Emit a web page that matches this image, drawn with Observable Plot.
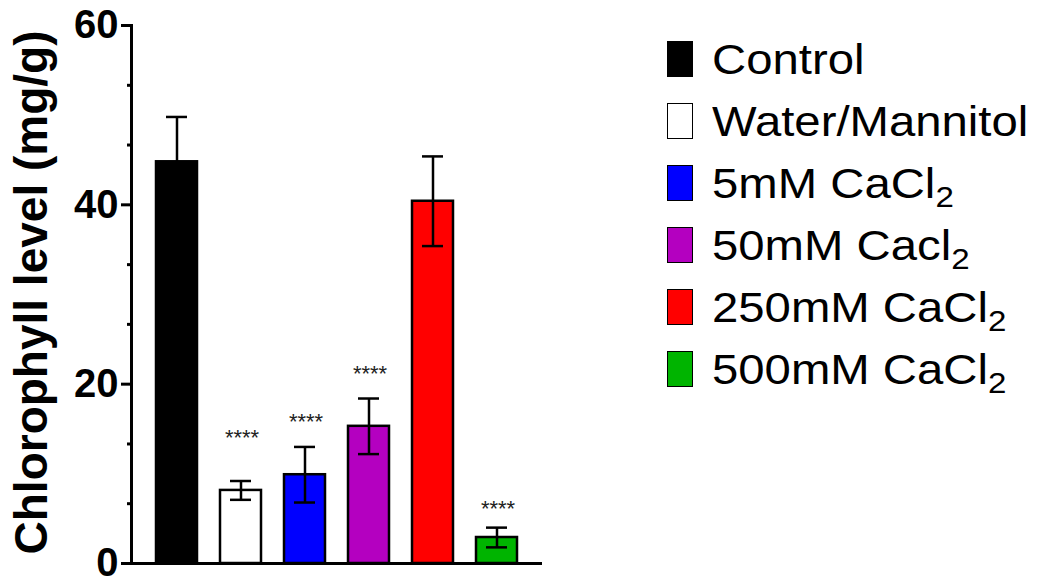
<!DOCTYPE html>
<html><head><meta charset="utf-8">
<script src="https://cdn.jsdelivr.net/npm/d3@7"></script>
<script src="https://cdn.jsdelivr.net/npm/@observablehq/plot@0.6"></script>
<style>
html,body{margin:0;padding:0;background:#fff;}
#wrap{position:relative;width:1038px;height:581px;overflow:hidden;}
#legend{position:absolute;left:667px;top:28px;font-family:"Liberation Sans",Arial,sans-serif;font-size:43px;color:#000;}
.item{display:flex;align-items:center;height:62px;white-space:nowrap;}
.sw{width:24px;height:34px;border:1.5px solid #000;margin-right:19px;flex:none;}
.lt{display:inline-block;transform:scaleX(1.1);transform-origin:left center;}
sub{font-size:0.7em;vertical-align:-0.3em;line-height:0;}
</style></head><body><div id="wrap"><div id="legend"></div></div>
<script>
const groups = ["Control", "Water/Mannitol", "5mM CaCl2", "50mM Cacl2", "250mM CaCl2", "500mM CaCl2"];
const legendHtml = ["Control", "Water/Mannitol", "5mM CaCl<sub>2</sub>", "50mM Cacl<sub>2</sub>", "250mM CaCl<sub>2</sub>", "500mM CaCl<sub>2</sub>"];
const means = [44.8, 8.15, 9.9, 15.3, 40.4, 2.9];
const errors = [5.0, 1.05, 3.1, 3.1, 5.0, 1.1];
const colors = ["#000000", "#ffffff", "#0000ff", "#b400c0", "#ff0000", "#00b400"];
const sigText = ["", "****", "****", "****", "", "****"];
const sigY = [null, 14.7, 16.4, 21.8, null, 6.7];
const majorTicks = [0, 20, 40, 60];
const minorTicks = [6.67, 13.33, 26.67, 33.33, 46.67, 53.33];
const yTitle = "Chlorophyll level (mg/g)";

const data = groups.map((g, i) => ({group: g, mean: means[i], err: errors[i], color: colors[i], sig: sigText[i], sy: sigY[i]}));

const chart = Plot.plot({
  width: 560, height: 581,
  marginLeft: 131, marginRight: 18, marginTop: 25, marginBottom: 18,
  style: {fontFamily: "'Liberation Sans', Arial, sans-serif", background: "white", color: "black", overflow: "visible"},
  x: {domain: groups, paddingInner: 0.3624, paddingOuter: 0.369, axis: null},
  y: {domain: [0, 60], axis: null},
  color: {type: "identity"},
  marks: [
    Plot.barY(data, {x: "group", y: "mean", fill: "color", stroke: "black", strokeWidth: 2.5}),
    Plot.ruleX(data, {x: "group", y1: d => d.mean - d.err, y2: d => d.mean + d.err, stroke: "black", strokeWidth: 2.5}),
    Plot.tickY(data, {x: "group", y: d => d.mean + d.err, insetLeft: 10, insetRight: 10, stroke: "black", strokeWidth: 2.5}),
    Plot.tickY(data, {x: "group", y: d => d.mean - d.err, insetLeft: 10, insetRight: 10, stroke: "black", strokeWidth: 2.5}),
    Plot.text(data.filter(d => d.sig), {x: "group", y: "sy", text: "sig", fontSize: 22, dx: 1, dy: 6, fill: "#222", style: "letter-spacing:1.5px"}),
    Plot.axisY(majorTicks, {tickSize: 10, tickPadding: 3, fontSize: 40, fontWeight: "bold", strokeWidth: 3, label: null, fill: "black", style: "letter-spacing:2px"}),
    Plot.axisY(minorTicks, {tickSize: 4, tickFormat: () => "", strokeWidth: 3, label: null}),
    Plot.frame({anchor: "left", strokeWidth: 3}),
    Plot.ruleY([0], {strokeWidth: 3}),
    Plot.text([yTitle], {text: d => d, frameAnchor: "left", textAnchor: "middle", lineAnchor: "middle", rotate: -90, dx: -99, dy: -2, fontSize: 46, fontWeight: "bold", fill: "black"})
  ]
});
document.getElementById("wrap").prepend(chart);

const legend = document.getElementById("legend");
groups.forEach((g, i) => {
  const item = document.createElement("div");
  item.className = "item";
  const sw = document.createElement("div");
  sw.className = "sw";
  sw.style.background = colors[i];
  const t = document.createElement("span");
  t.className = "lt";
  t.innerHTML = legendHtml[i];
  item.appendChild(sw);
  item.appendChild(t);
  legend.appendChild(item);
});
</script>
</body></html>
